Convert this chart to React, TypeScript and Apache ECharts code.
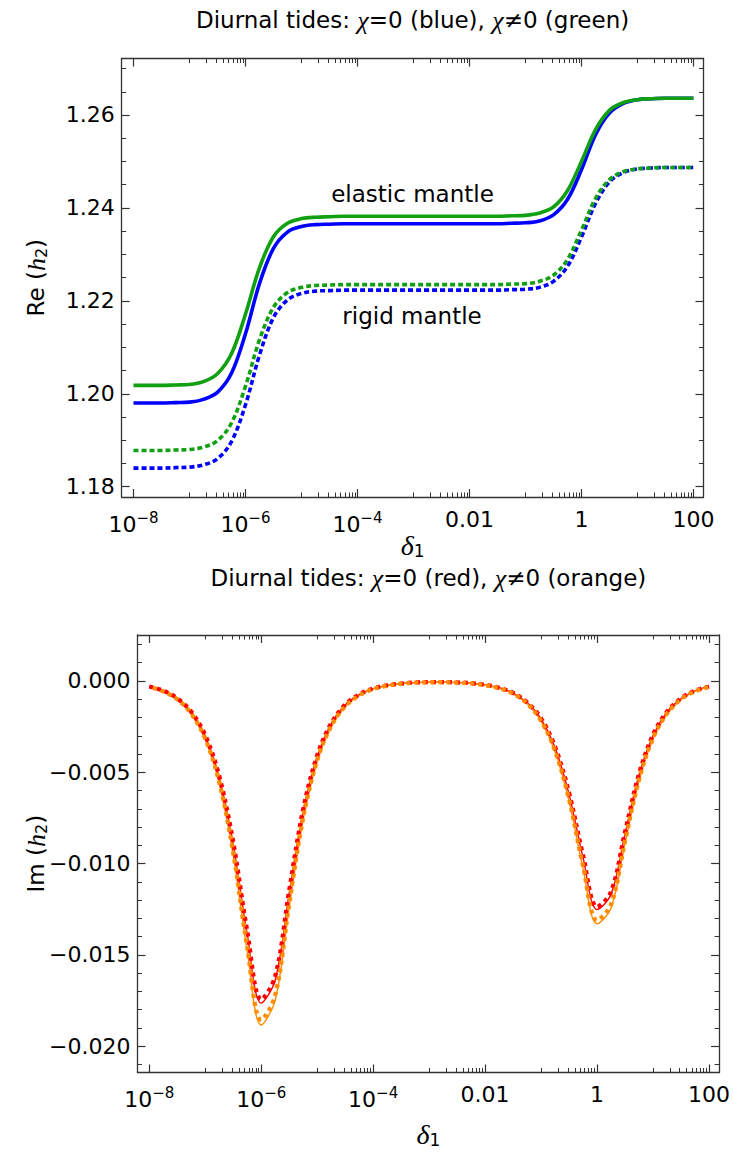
import React, { useEffect, useRef } from 'react';
import * as echarts from 'echarts';

// ---------- data (log10 of delta_1) ----------
const logDelta = [
  -8, -7.75, -7.5, -7.25, -7, -6.75, -6.5, -6.25, -6, -5.75,
  -5.5, -5.25, -5, -4.75, -4.5, -4.25, -4, -3.75, -3.5, -3.25,
  -3, -2.75, -2.5, -2.25, -2, -1.75, -1.5, -1.25, -1, -0.75,
  -0.5, -0.25, 0, 0.25, 0.5, 0.75, 1, 1.25, 1.5, 1.75, 2,
];

// Re(h2): elastic mantle, chi = 0 (blue)
const reElasticBlue = [
  1.1980, 1.1980, 1.1980, 1.1981, 1.1982, 1.1988, 1.2003, 1.2044, 1.2129, 1.2237,
  1.2313, 1.2348, 1.2360, 1.2364, 1.2365, 1.2366, 1.2366, 1.2366, 1.2366, 1.2366,
  1.2366, 1.2366, 1.2366, 1.2366, 1.2366, 1.2366, 1.2366, 1.2367, 1.2368, 1.2372,
  1.2385, 1.2418, 1.2482, 1.2557, 1.2604, 1.2625, 1.2633, 1.2635, 1.2636, 1.2636, 1.2636,
];
// Re(h2): elastic mantle, chi != 0 (green)
const reElasticGreen = [
  1.2018, 1.2018, 1.2018, 1.2019, 1.2020, 1.2026, 1.2043, 1.2086, 1.2171, 1.2271,
  1.2338, 1.2367, 1.2377, 1.2380, 1.2381, 1.2382, 1.2382, 1.2382, 1.2382, 1.2382,
  1.2382, 1.2382, 1.2382, 1.2382, 1.2382, 1.2382, 1.2382, 1.2383, 1.2384, 1.2389,
  1.2402, 1.2437, 1.2500, 1.2568, 1.2610, 1.2627, 1.2633, 1.2635, 1.2636, 1.2636, 1.2636,
];
// Re(h2): rigid mantle, chi = 0 (blue, dotted)
const reRigidBlue = [
  1.1840, 1.1840, 1.1840, 1.1841, 1.1842, 1.1847, 1.1860, 1.1897, 1.1976, 1.2083,
  1.2164, 1.2202, 1.2216, 1.2221, 1.2222, 1.2223, 1.2223, 1.2223, 1.2223, 1.2223,
  1.2223, 1.2223, 1.2223, 1.2223, 1.2223, 1.2223, 1.2223, 1.2224, 1.2225, 1.2229,
  1.2242, 1.2274, 1.2337, 1.2409, 1.2456, 1.2476, 1.2484, 1.2486, 1.2487, 1.2487, 1.2487,
];
// Re(h2): rigid mantle, chi != 0 (green, dotted)
const reRigidGreen = [
  1.1878, 1.1878, 1.1878, 1.1879, 1.1880, 1.1885, 1.1899, 1.1937, 1.2016, 1.2116,
  1.2186, 1.2218, 1.2229, 1.2233, 1.2234, 1.2235, 1.2235, 1.2235, 1.2235, 1.2235,
  1.2235, 1.2235, 1.2235, 1.2235, 1.2235, 1.2235, 1.2235, 1.2236, 1.2237, 1.2242,
  1.2255, 1.2289, 1.2352, 1.2420, 1.2461, 1.2478, 1.2484, 1.2486, 1.2487, 1.2487, 1.2487,
];

// Im(h2): chi = 0 (red), solid
const imRedSolid = [
  -0.0003, -0.00054, -0.00096, -0.0017, -0.00301, -0.00527, -0.00894, -0.01387, -0.01765, -0.01638,
  -0.01162, -0.00712, -0.00413, -0.00235, -0.00132, -0.00075, -0.00042, -0.00024, -0.00014, -0.00008,
  -0.00006, -0.00006, -0.00008, -0.00012, -0.00021, -0.00037, -0.00066, -0.00118, -0.00208, -0.00365,
  -0.0062, -0.00968, -0.01252, -0.01169, -0.00837, -0.00515, -0.00299, -0.0017, -0.00096, -0.00054, -0.0003,
];
// Im(h2): chi != 0 (orange), solid
const imOrangeSolid = [
  -0.00032, -0.00058, -0.00102, -0.00182, -0.00321, -0.00562, -0.00954, -0.0148, -0.01885, -0.01748,
  -0.01241, -0.0076, -0.00441, -0.00251, -0.00141, -0.0008, -0.00045, -0.00026, -0.00015, -0.00009,
  -0.00007, -0.00006, -0.00009, -0.00013, -0.00023, -0.0004, -0.0007, -0.00125, -0.00221, -0.00389,
  -0.00659, -0.01029, -0.0133, -0.01244, -0.0089, -0.00548, -0.00318, -0.00181, -0.00102, -0.00057, -0.00032,
];
// Im(h2): chi = 0 (red), dotted
const imRedDotted = [
  -0.0003, -0.00053, -0.00095, -0.00168, -0.00297, -0.00521, -0.00883, -0.0137, -0.01745, -0.01618,
  -0.01148, -0.00703, -0.00408, -0.00232, -0.0013, -0.00074, -0.00041, -0.00024, -0.00014, -0.00008,
  -0.00006, -0.00006, -0.00008, -0.00012, -0.00021, -0.00037, -0.00065, -0.00117, -0.00205, -0.00361,
  -0.00613, -0.00956, -0.01237, -0.01155, -0.00827, -0.00509, -0.00295, -0.00168, -0.00095, -0.00053, -0.0003,
];
// Im(h2): chi != 0 (orange), dotted
const imOrangeDotted = [
  -0.00031, -0.00057, -0.001, -0.00179, -0.00316, -0.00554, -0.0094, -0.01458, -0.01857, -0.01722,
  -0.01222, -0.00749, -0.00434, -0.00247, -0.00139, -0.00079, -0.00044, -0.00026, -0.00015, -0.00009,
  -0.00007, -0.00006, -0.00009, -0.00013, -0.00023, -0.00039, -0.00069, -0.00123, -0.00218, -0.00383,
  -0.00649, -0.01014, -0.0131, -0.01225, -0.00877, -0.0054, -0.00313, -0.00178, -0.001, -0.00056, -0.00032,
];

// ---------- ticks ----------
const xMajor = [-8, -6, -4, -2, 0, 2];
const xMajorLabels = ['10^−8', '10^−6', '10^−4', '0.01', '1', '100'];
const xMinorDecades = [-7, -5, -3, -1, 1];
const xMinorMultipliers = [1, 2, 3, 4, 5, 6, 7, 8, 9];
const reMajor = [1.18, 1.2, 1.22, 1.24, 1.26];
const reMajorLabels = ['1.18', '1.20', '1.22', '1.24', '1.26'];
const reMinor = [1.185, 1.19, 1.195, 1.205, 1.21, 1.215, 1.225, 1.23, 1.235, 1.245, 1.25, 1.255, 1.265, 1.27];
const imMajor = [0, -0.005, -0.01, -0.015, -0.02];
const imMajorLabels = ['0.000', '−0.005', '−0.010', '−0.015', '−0.020'];
const imMinor = [0.002, 0.001, -0.001, -0.002, -0.003, -0.004, -0.006, -0.007, -0.008, -0.009,
  -0.011, -0.012, -0.013, -0.014, -0.016, -0.017, -0.018, -0.019, -0.021];

const xMinor: number[] = [];
xMinorDecades.forEach((d) => xMinorMultipliers.forEach((m) => xMinor.push(d + Math.log10(m))));

const FONT = 'DejaVu Sans';
const SERIF = 'Liberation Serif';
const AX = '#333333';
const X_MIN = -8.21;
const X_MAX = 2.18;

const pairs = (ys: number[]) => logDelta.map((x, i) => [x, ys[i]]);

const lookup = (vals: number[], labels: string[], v: number) => {
  const i = vals.findIndex((m) => Math.abs(m - v) < 1e-7);
  return i >= 0 ? labels[i] : '';
};

const xFormatter = (v: number) => {
  const s = lookup(xMajor, xMajorLabels, v);
  if (s.indexOf('^') >= 0) {
    const [b, e] = s.split('^');
    return `{b|${b}}{e|${e}}`;
  }
  return `{n|${s}}`;
};

const xRich = {
  n: { fontSize: 22, fontFamily: FONT, color: '#000' },
  b: { fontSize: 22, fontFamily: FONT, color: '#000', padding: [5, 0, 0, 0] },
  e: { fontSize: 15, fontFamily: FONT, color: '#000', padding: [0, 0, 8, 0] },
};

function makeXAxes(gridIndex: number) {
  const base = {
    type: 'value', gridIndex, min: X_MIN, max: X_MAX,
    splitLine: { show: false },
  };
  return [
    {
      ...base, position: 'bottom',
      axisLine: { show: true, onZero: false, lineStyle: { color: AX, width: 1.3 } },
      axisTick: { show: true, inside: true, length: 8, customValues: xMajor, lineStyle: { color: AX, width: 1.2 } },
      axisLabel: { show: true, customValues: xMajor, formatter: xFormatter, margin: 11, rich: xRich },
    },
    {
      ...base, position: 'bottom',
      axisLine: { show: false, onZero: false },
      axisTick: { show: true, inside: true, length: 4.5, customValues: xMinor, lineStyle: { color: AX, width: 1 } },
      axisLabel: { show: false },
    },
    {
      ...base, position: 'top',
      axisLine: { show: true, onZero: false, lineStyle: { color: AX, width: 1.3 } },
      axisTick: { show: true, inside: true, length: 8, customValues: xMajor, lineStyle: { color: AX, width: 1.2 } },
      axisLabel: { show: false },
    },
    {
      ...base, position: 'top',
      axisLine: { show: false, onZero: false },
      axisTick: { show: true, inside: true, length: 4.5, customValues: xMinor, lineStyle: { color: AX, width: 1 } },
      axisLabel: { show: false },
    },
  ];
}

function makeYAxes(gridIndex: number, min: number, max: number, major: number[], labels: string[], minor: number[]) {
  const base = { type: 'value', gridIndex, min, max, splitLine: { show: false } };
  return [
    {
      ...base, position: 'left',
      axisLine: { show: true, onZero: false, lineStyle: { color: AX, width: 1.3 } },
      axisTick: { show: true, inside: true, length: 8, customValues: major, lineStyle: { color: AX, width: 1.2 } },
      axisLabel: {
        show: true, customValues: major, margin: 7,
        formatter: (v: number) => lookup(major, labels, v),
        fontSize: 22, fontFamily: FONT, color: '#000',
      },
    },
    {
      ...base, position: 'left',
      axisLine: { show: false, onZero: false },
      axisTick: { show: true, inside: true, length: 4.5, customValues: minor, lineStyle: { color: AX, width: 1 } },
      axisLabel: { show: false },
    },
    {
      ...base, position: 'right',
      axisLine: { show: true, onZero: false, lineStyle: { color: AX, width: 1.3 } },
      axisTick: { show: true, inside: true, length: 8, customValues: major, lineStyle: { color: AX, width: 1.2 } },
      axisLabel: { show: false },
    },
    {
      ...base, position: 'right',
      axisLine: { show: false, onZero: false },
      axisTick: { show: true, inside: true, length: 4.5, customValues: minor, lineStyle: { color: AX, width: 1 } },
      axisLabel: { show: false },
    },
  ];
}

function line(data: number[], axisIndex: number, color: string, width: number, dash?: number[], dashOffset = 0) {
  return {
    type: 'line', xAxisIndex: axisIndex, yAxisIndex: axisIndex,
    data: pairs(data), showSymbol: false, smooth: 0.35, silent: true,
    lineStyle: { color, width, type: dash ? dash : 'solid', dashOffset, cap: 'butt' },
  };
}

const BLUE = '#0000ff';
const GREEN = '#11a011';
const RED = '#ff0000';
const ORANGE = '#ff8c00';

function text(x: number, y: number, str: string, size: number, rich: any, rotation = 0) {
  return {
    type: 'text', x, y, rotation,
    style: {
      text: str, fontSize: size, fontFamily: FONT, fill: '#000',
      align: 'center', verticalAlign: 'middle', rich,
    },
  };
}

const italic = (size: number) => ({ fontSize: size, fontFamily: SERIF, fontStyle: 'italic', fill: '#000' });
const titleRich = { n: { fontSize: 23, fontFamily: FONT, fill: '#000' }, i: italic(26) };
const nameRich = {
  n: { fontSize: 23, fontFamily: FONT, fill: '#000' },
  i: italic(26),
  s: { fontSize: 16, fontFamily: FONT, fill: '#000', padding: [10, 0, 0, 0] },
};
const deltaRich = {
  i: italic(28),
  s: { fontSize: 17, fontFamily: FONT, fill: '#000', padding: [12, 0, 0, 0] },
};

export default function App() {
  const ref = useRef<HTMLDivElement>(null);
  useEffect(() => {
    if (!ref.current) return;
    const chart = echarts.init(ref.current, undefined, { renderer: 'svg' });
    chart.setOption({
      animation: false,
      backgroundColor: '#ffffff',
      grid: [
        { left: 121.7, top: 58.5, width: 581.8, height: 438.5 },
        { left: 137.5, top: 635, width: 581.8, height: 437.5 },
      ],
      xAxis: [...makeXAxes(0), ...makeXAxes(1)],
      yAxis: [
        ...makeYAxes(0, 1.17778, 1.27216, reMajor, reMajorLabels, reMinor),
        ...makeYAxes(1, -0.02145, 0.00252, imMajor, imMajorLabels, imMinor),
      ],
      series: [
        line(reElasticBlue, 0, BLUE, 3.6),
        line(reElasticGreen, 0, GREEN, 3.6),
        line(reRigidBlue, 0, BLUE, 3.6, [5, 3]),
        line(reRigidGreen, 0, GREEN, 3.6, [5, 3]),
        line(imRedSolid, 4, RED, 1.4),
        line(imOrangeSolid, 4, ORANGE, 1.4),
        line(imRedDotted, 4, RED, 4.3, [4, 4]),
        line(imOrangeDotted, 4, ORANGE, 4.3, [4, 4], 4),
      ],
      graphic: [
        text(412.6, 20, '{n|Diurnal tides: }{i|χ}{n|=0 (blue), }{i|χ}{n|≠0 (green)}', 23, titleRich),
        text(428.4, 578, '{n|Diurnal tides: }{i|χ}{n|=0 (red), }{i|χ}{n|≠0 (orange)}', 23, titleRich),
        text(412.6, 545, '{i|δ}{s|1}', 28, deltaRich),
        text(428.4, 1134, '{i|δ}{s|1}', 28, deltaRich),
        text(36, 277.7, '{n|Re (}{i|h}{s|2}{n|)}', 23, nameRich, Math.PI / 2),
        text(36, 853.7, '{n|Im (}{i|h}{s|2}{n|)}', 23, nameRich, Math.PI / 2),
        text(412.5, 194, 'elastic mantle', 23, undefined),
        text(412, 316, 'rigid mantle', 23, undefined),
      ],
    });
    return () => chart.dispose();
  }, []);
  return (
    <div
      ref={ref}
      style={{ position: 'fixed', left: 0, top: 0, width: 733, height: 1157, background: '#fff' }}
    />
  );
}
